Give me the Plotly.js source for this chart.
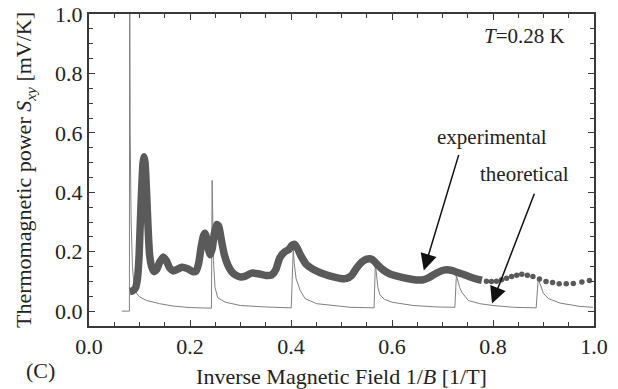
<!DOCTYPE html>
<html>
<head>
<meta charset="utf-8">
<script src="https://cdn.plot.ly/plotly-3.0.1.min.js"></script>
<style>html,body{margin:0;padding:0;background:#fff;}#chart{width:618px;height:389px;}</style>
</head>
<body>
<div id="chart"></div>
<script>
// Experimental data (dense part, drawn as thick line)
const expX = [0.081,0.086,0.092,0.096,0.099,0.101,0.104,0.107,0.109,0.111,0.114,0.117,0.120,0.124,0.129,0.134,0.140,0.147,0.153,0.160,0.167,0.174,0.184,0.195,0.205,0.212,0.217,0.222,0.227,0.230,0.233,0.237,0.240,0.244,0.248,0.253,0.257,0.262,0.268,0.275,0.283,0.292,0.300,0.310,0.322,0.335,0.350,0.362,0.370,0.378,0.388,0.396,0.402,0.407,0.413,0.420,0.430,0.440,0.451,0.465,0.484,0.498,0.510,0.520,0.530,0.540,0.550,0.558,0.565,0.572,0.583,0.595,0.610,0.630,0.648,0.660,0.672,0.685,0.697,0.708,0.720,0.730,0.741,0.755,0.768,0.778];
const expY = [0.066,0.068,0.078,0.11,0.18,0.27,0.40,0.50,0.52,0.50,0.40,0.28,0.19,0.15,0.133,0.140,0.165,0.182,0.170,0.145,0.135,0.140,0.148,0.143,0.133,0.135,0.16,0.215,0.255,0.262,0.245,0.205,0.19,0.21,0.26,0.292,0.285,0.24,0.19,0.155,0.132,0.12,0.115,0.118,0.128,0.126,0.12,0.122,0.14,0.18,0.200,0.208,0.222,0.225,0.21,0.185,0.158,0.145,0.135,0.125,0.115,0.11,0.110,0.12,0.145,0.165,0.175,0.176,0.168,0.155,0.138,0.126,0.118,0.110,0.105,0.105,0.112,0.125,0.135,0.139,0.136,0.130,0.124,0.115,0.108,0.104];
// Experimental data (sparse tail, individual points)
const expTailX = [0.787,0.797,0.807,0.817,0.827,0.837,0.847,0.857,0.868,0.879,0.892,0.905,0.918,0.931,0.945,0.959,0.976,0.991];
const expTailY = [0.101,0.100,0.101,0.106,0.111,0.117,0.121,0.124,0.121,0.117,0.108,0.100,0.096,0.092,0.092,0.093,0.098,0.103];
// Theoretical curve
const thX = [0.065,0.0800,0.0805,0.0815,0.0835,0.0860,0.0890,0.094,0.100,0.114,0.140,0.167,0.200,0.236,0.2425,0.2438,0.2450,0.2465,0.2495,0.255,0.270,0.300,0.350,0.397,0.4005,0.4045,0.4065,0.410,0.418,0.428,0.451,0.517,0.556,0.5645,0.5670,0.5690,0.5720,0.5760,0.585,0.600,0.642,0.690,0.718,0.7245,0.7275,0.7300,0.7340,0.7380,0.751,0.774,0.800,0.840,0.873,0.8855,0.8895,0.8930,0.900,0.910,0.933,0.972,0.998];
const thY = [0.0,0.0,1.25,0.60,0.30,0.15,0.09,0.06,0.048,0.036,0.025,0.017,0.012,0.009,0.010,0.44,0.25,0.17,0.08,0.045,0.030,0.019,0.014,0.011,0.011,0.21,0.16,0.11,0.07,0.042,0.025,0.013,0.011,0.011,0.16,0.12,0.08,0.055,0.040,0.030,0.019,0.014,0.013,0.013,0.12,0.10,0.08,0.064,0.036,0.025,0.019,0.013,0.011,0.011,0.109,0.09,0.059,0.042,0.027,0.016,0.013];

const xTickVals = [0.0,0.2,0.4,0.6,0.8,1.0];
const xTickText = ['0.0','0.2','0.4','0.6','0.8','1.0'];
const yTickVals = [0.0,0.2,0.4,0.6,0.8,1.0];
const yTickText = ['0.0','0.2','0.4','0.6','0.8','1.0'];

const FONT = '"Liberation Serif", "Times New Roman", serif';
const AX = '#3a3a3a';

const traces = [
  {x: thX, y: thY, mode: 'lines', line: {color: '#808080', width: 1}, hoverinfo: 'skip'},
  {x: expX, y: expY, mode: 'lines', line: {color: '#5a5a5a', width: 7.5, shape: 'spline', smoothing: 0.6}, hoverinfo: 'skip'},
  {x: expTailX, y: expTailY, mode: 'markers', marker: {color: '#5a5a5a', size: 5.5}, hoverinfo: 'skip'}
];

const axisCommon = {
  showline: true, linecolor: AX, linewidth: 2, mirror: 'allticks',
  ticks: 'inside', ticklen: 6, tickwidth: 1, tickcolor: AX,
  showgrid: false, zeroline: false,
  tickfont: {family: FONT, size: 22, color: '#222'},
  minor: {dtick: 0.05, ticks: 'inside', ticklen: 4, tickwidth: 1, tickcolor: AX, showgrid: false}
};

const layout = {
  width: 618, height: 389,
  margin: {l: 89, r: 24, t: 14, b: 63},
  paper_bgcolor: '#fff', plot_bgcolor: '#fff',
  showlegend: false,
  font: {family: FONT, color: '#222'},
  xaxis: Object.assign({}, axisCommon, {
    range: [0, 1.0], tickmode: 'array', tickvals: xTickVals, ticktext: xTickText,
    title: {text: 'Inverse Magnetic Field 1/<i>B</i> [1/T]', font: {family: FONT, size: 22, color: '#222'}, standoff: 11}
  }),
  yaxis: Object.assign({}, axisCommon, {
    range: [-0.05, 1.0], tickmode: 'array', tickvals: yTickVals, ticktext: yTickText,
    title: {text: 'Thermomagnetic power <i>S<sub>xy</sub></i> [mV/K]', font: {family: FONT, size: 22, color: '#222'}, standoff: 17}
  }),
  annotations: [
    {x: 0.947, y: 0.926, xref: 'x', yref: 'y', xanchor: 'right', yanchor: 'middle', showarrow: false,
     text: '<i>T</i>=0.28 K', font: {family: FONT, size: 21, color: '#222'}},
    {x: 0.798, y: 0.585, xref: 'x', yref: 'y', xanchor: 'center', yanchor: 'middle', showarrow: false,
     text: 'experimental', font: {family: FONT, size: 21, color: '#222'}},
    {x: 0.863, y: 0.463, xref: 'x', yref: 'y', xanchor: 'center', yanchor: 'middle', showarrow: false,
     text: 'theoretical', font: {family: FONT, size: 21, color: '#222'}},
    {x: 0.663, y: 0.137, ax: 0.733, ay: 0.531, xref: 'x', yref: 'y', axref: 'x', ayref: 'y', text: '',
     showarrow: true, arrowhead: 2, arrowsize: 2.2, arrowwidth: 1.5, arrowcolor: '#111'},
    {x: 0.798, y: 0.026, ax: 0.883, ay: 0.40, xref: 'x', yref: 'y', axref: 'x', ayref: 'y', text: '',
     showarrow: true, arrowhead: 2, arrowsize: 2.2, arrowwidth: 1.5, arrowcolor: '#111'},
    {x: -0.097, y: -0.142, xref: 'paper', yref: 'paper', xanchor: 'center', yanchor: 'middle', showarrow: false,
     text: '(C)', font: {family: FONT, size: 22, color: '#222'}}
  ]
};

Plotly.newPlot('chart', traces, layout, {staticPlot: true, displayModeBar: false});
</script>
</body>
</html>
